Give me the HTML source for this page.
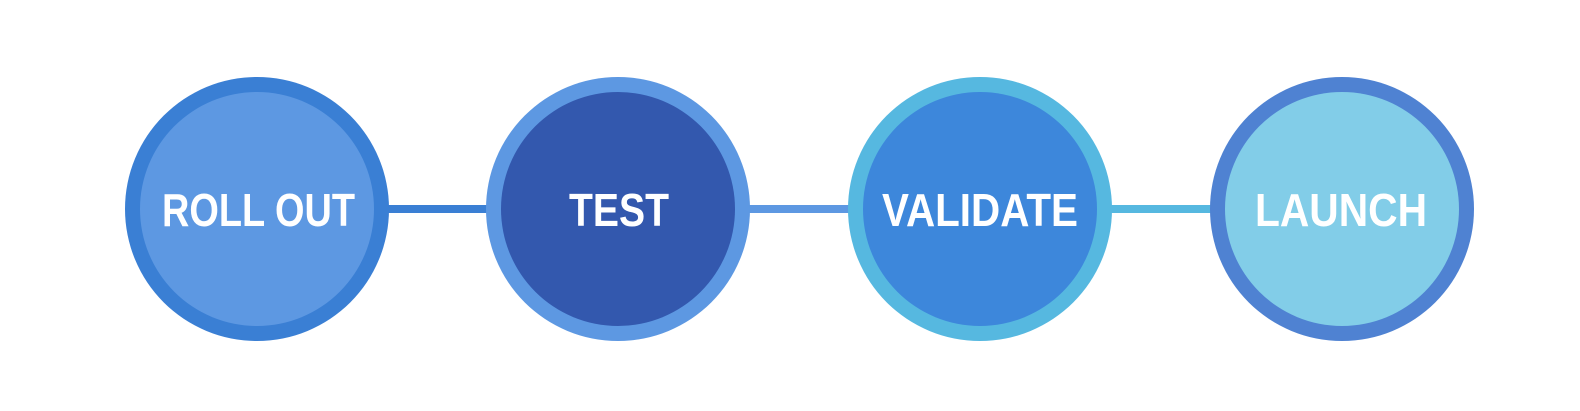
<!DOCTYPE html>
<html><head><meta charset="utf-8"><style>html,body{margin:0;padding:0;background:#fff;}svg{display:block}</style></head>
<body>
<svg width="1580" height="411" viewBox="0 0 1580 411" xmlns="http://www.w3.org/2000/svg">
<rect x="380" y="205" width="115" height="8" fill="#3a7fd4"/>
<rect x="742" y="205" width="115" height="8" fill="#5d98e2"/>
<rect x="1104" y="205" width="115" height="8" fill="#56b8e0"/>
<circle cx="257" cy="209" r="132" fill="#3a7fd4"/><circle cx="257" cy="209" r="117" fill="#5d98e2"/>
<circle cx="618" cy="209" r="132" fill="#5d98e2"/><circle cx="618" cy="209" r="117" fill="#3358ae"/>
<circle cx="980" cy="209" r="132" fill="#56b8e0"/><circle cx="980" cy="209" r="117" fill="#3d87db"/>
<circle cx="1342" cy="209" r="132" fill="#4f82d2"/><circle cx="1342" cy="209" r="117" fill="#82cde8"/>
<g font-family="Liberation Sans, sans-serif" font-weight="bold" font-size="46" fill="#fff">
<text x="162" y="226" textLength="193" lengthAdjust="spacingAndGlyphs">ROLL OUT</text>
<text x="569" y="226" textLength="100" lengthAdjust="spacingAndGlyphs">TEST</text>
<text x="882" y="226" textLength="196" lengthAdjust="spacingAndGlyphs">VALIDATE</text>
<text x="1255" y="226" textLength="172" lengthAdjust="spacingAndGlyphs">LAUNCH</text>
</g>
</svg>
</body></html>
